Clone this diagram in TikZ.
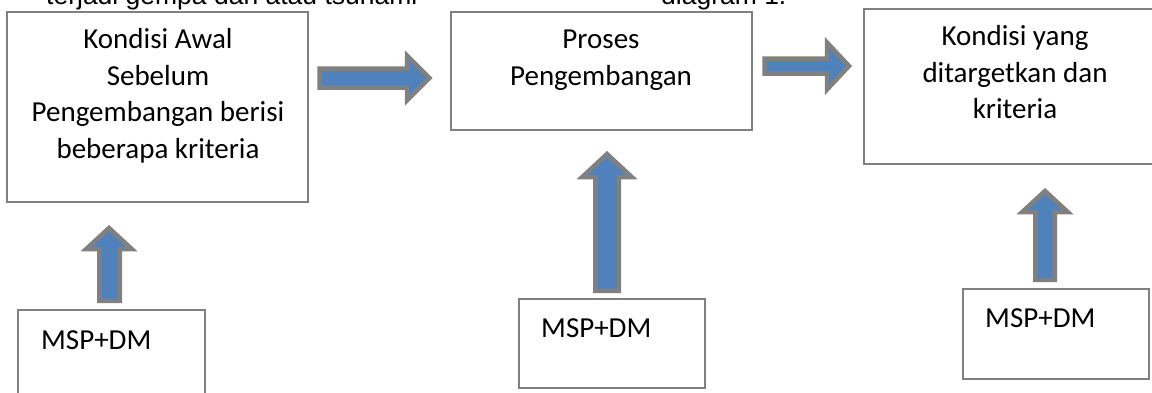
\documentclass[tikz,border=0pt]{standalone}
\usepackage{fontspec}
\setmainfont{Carlito}
\newfontfamily\arialfont{Liberation Sans}
\definecolor{bordergray}{RGB}{128,128,128}
\definecolor{arrowblue}{RGB}{79,129,189}
\begin{document}
\begin{tikzpicture}[x=1pt,y=-1pt,
  box/.style={draw=bordergray, line width=1.5pt, fill=white, inner sep=0pt},
  boxtext/.style={align=center, inner sep=0pt, font=\fontsize{29}{36.5}\selectfont},
  msptext/.style={inner sep=0pt, anchor=base west, font=\fontsize{29}{36.5}\selectfont},
  toptext/.style={inner sep=0pt, anchor=base west, font=\arialfont\fontsize{26.5}{30}\selectfont},
  blockarrow/.style={draw=bordergray, fill=arrowblue, line width=4.5pt, line join=miter}]
\useasboundingbox (0,0) rectangle (1152,392);
\clip (0,0) rectangle (1152,392);

% cut-off text at the top
\node[toptext] (top1) at (46,4) {terjadi gempa dan atau tsunami};
\node[toptext] (top2) at (661,4) {diagram 1.};

% main boxes (text anchored at the baseline of its last line)
\node[box, minimum width=301pt, minimum height=190pt] (b1) at (157.5,107) {};
\node[boxtext, anchor=base] (t1) at (158,158) {Kondisi Awal\\Sebelum\\Pengembangan berisi\\beberapa kriteria};

\node[box, minimum width=301pt, minimum height=118pt] (b2) at (601.5,71) {};
\node[boxtext, anchor=base] (t2) at (601,85) {Proses\\Pengembangan};

\node[box, minimum width=302pt, minimum height=155pt] (b3) at (1015,86.5) {};
\node[boxtext, anchor=base] (t3) at (1015,118.5) {Kondisi yang\\ditargetkan dan\\kriteria};

% MSP+DM boxes
\node[box, minimum width=187pt, minimum height=120pt] (m1) at (111.5,370) {};
\node[msptext] (mt1) at (41,349.5) {MSP+DM};

\node[box, minimum width=186pt, minimum height=89pt] (m2) at (612,343.5) {};
\node[msptext] (mt2) at (541,337.5) {MSP+DM};

\node[box, minimum width=186pt, minimum height=90pt] (m3) at (1056,334) {};
\node[msptext] (mt3) at (985,327.5) {MSP+DM};

% horizontal block arrows
\draw[blockarrow] (319.5,68.5) -- (407,68.5) -- (407,55.5) -- (429.5,78) -- (407,100.5) -- (407,87.5) -- (319.5,87.5) -- cycle;
\draw[blockarrow] (764.5,58.5) -- (827,58.5) -- (827,42.5) -- (849,66) -- (827,89.5) -- (827,73.5) -- (764.5,73.5) -- cycle;

% vertical block arrows
\draw[blockarrow] (99.25,300.75) -- (99.25,249) -- (86.25,249) -- (109,228) -- (131.75,249) -- (119.75,249) -- (119.75,300.75) -- cycle;
\draw[blockarrow] (595.25,290.75) -- (595.25,177) -- (582.25,177) -- (607,154) -- (631.75,177) -- (618.75,177) -- (618.75,290.75) -- cycle;
\draw[blockarrow] (1035.25,279.75) -- (1035.25,212) -- (1022.25,212) -- (1045,191) -- (1067.75,212) -- (1054.75,212) -- (1054.75,279.75) -- cycle;
\end{tikzpicture}
\end{document}
